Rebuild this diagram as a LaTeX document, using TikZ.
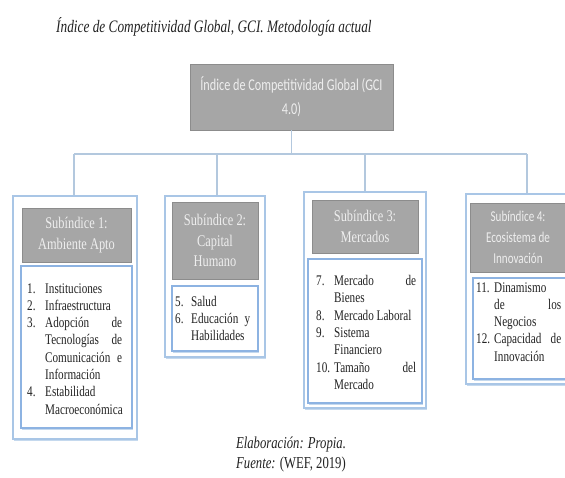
\documentclass[tikz,border=0pt]{standalone}
\usepackage{fontspec}
\usetikzlibrary{shadows}
\newfontfamily\tnr{Liberation Serif}[FakeStretch=0.76]
\newfontfamily\calfam{Carlito}[FakeStretch=0.74]
\definecolor{hdrfill}{HTML}{A6A6A6}
\definecolor{hdrdraw}{HTML}{8C8C8C}
\definecolor{hdrtext}{HTML}{EEEEEE}
\definecolor{outcol}{HTML}{A9C6E6}
\definecolor{incol}{HTML}{8DB3E2}
\definecolor{shadcol}{HTML}{C5D9EE}
\definecolor{conncol}{HTML}{B3C8DE}
\definecolor{txt}{HTML}{222222}
\newlength\lw
\newlength\tw
\newcommand\Ln[2]{\hbox{\makebox[\lw][l]{#1}\makebox[\tw][l]{#2}}}
\tikzset{
  outbox/.style={draw=outcol, line width=1.2pt, fill=white, inner sep=0pt,
    drop shadow={shadow xshift=1pt, shadow yshift=-1.5pt, fill=shadcol, opacity=1}},
  inbox/.style={draw=incol, line width=1.4pt, fill=white, inner sep=0pt,
    drop shadow={shadow xshift=0.8pt, shadow yshift=-1.5pt, fill=shadcol, opacity=1}},
  hdr/.style={draw=hdrdraw, line width=0.8pt, fill=hdrfill, inner sep=0pt, text=hdrtext, align=center,
    font=\tnr\fontsize{16.3}{20.5}\selectfont},
  hdrsans/.style={hdr, font=\calfam\fontsize{15}{21}\selectfont},
  listtext/.style={anchor=base west, inner sep=0pt, text=txt, font=\tnr\fontsize{14.7}{17.3}\selectfont},
  conn/.style={draw=conncol, line width=1.2pt}
}
\begin{document}
\begin{tikzpicture}[x=1pt,y=-1pt]
\useasboundingbox (0,0) rectangle (565,477);
\fill[white] (0,0) rectangle (565,477);
% title
\node[anchor=base west, inner sep=0pt, text=txt, font=\tnr\itshape\fontsize{17.5}{20}\selectfont] (title) at (56,32)
  {Índice de Competitividad Global, GCI. Metodología actual};
% top box
\node[hdr, font=\calfam\fontsize{16.5}{24}\selectfont, minimum width=203pt, minimum height=66pt,
  drop shadow={shadow xshift=0.6pt, shadow yshift=-1.2pt, fill=gray!75, opacity=1}] (top) at (291.5,97)
  {Índice de Competitividad Global (GCI\\4.0)};
% bus coordinates
\coordinate (d1) at (74,154);
\coordinate (d2) at (217,154);
\coordinate (d3) at (365,154);
\coordinate (d4) at (527,154);
% outer boxes
\node[outbox, minimum width=124pt, minimum height=243pt] (o1) at (75,317.5) {};
\node[outbox, minimum width=100pt, minimum height=161pt] (o2) at (215,276.5) {};
\node[outbox, minimum width=122pt, minimum height=216pt] (o3) at (365,300) {};
\node[outbox, minimum width=114pt, minimum height=190pt] (o4) at (523,289) {};
% connectors
\draw[conn] (top.south) -- (top.south |- d1);
\draw[conn] (d1) -- (d4);
\draw[conn] (d1) -- (d1 |- o1.north);
\draw[conn] (d2) -- (d2 |- o2.north);
\draw[conn] (d3) -- (d3 |- o3.north);
\draw[conn] (d4) -- (d4 |- o4.north);
% headers
\node[hdr, minimum width=109pt, minimum height=54pt] (h1) at (76.5,235) {Subíndice 1:\\Ambiente Apto};
\node[hdr, minimum width=86pt, minimum height=77pt] (h2) at (215,240.5) {Subíndice 2:\\Capital\\Humano};
\node[hdr, minimum width=106pt, minimum height=53pt] (h3) at (365,226.5) {Subíndice 3:\\Mercados};
\node[hdrsans, minimum width=96pt, minimum height=69pt] (h4) at (518,237.5) {Subíndice 4:\\Ecosistema de\\Innovación};
% inner list boxes
\node[inbox, minimum width=111pt, minimum height=162pt] (l1) at (76.5,347) {};
\node[inbox, minimum width=86pt, minimum height=65pt] (l2) at (215,318.5) {};
\node[inbox, minimum width=114pt, minimum height=144pt] (l3) at (365,331) {};
\node[inbox, minimum width=97pt, minimum height=101pt] (l4) at (521.5,328.5) {};
% list texts
\node[listtext] (t1) at (27,293) {\vtop{\setlength\lw{18pt}\setlength\tw{77pt}%
  \Ln{1.}{Instituciones}
  \Ln{2.}{Infraestructura}
  \Ln{3.}{Adopción\hfill de}
  \Ln{}{Tecnologías\hfill de}
  \Ln{}{Comunicación\hfill e}
  \Ln{}{Información}
  \Ln{4.}{Estabilidad}
  \Ln{}{Macroeconómica}}};
\node[listtext] (t2) at (175,306) {\vtop{\setlength\lw{16pt}\setlength\tw{59pt}%
  \Ln{5.}{Salud}
  \Ln{6.}{Educación\hfill y}
  \Ln{}{Habilidades}}};
\node[listtext] (t3) at (316,285.5) {\vtop{\setlength\lw{18pt}\setlength\tw{82pt}%
  \Ln{7.}{Mercado\hfill de}
  \Ln{}{Bienes}
  \Ln{8.}{Mercado Laboral}
  \Ln{9.}{Sistema}
  \Ln{}{Financiero}
  \Ln{10.}{Tamaño\hfill del}
  \Ln{}{Mercado}}};
\node[listtext] (t4) at (476,292) {\vtop{\setlength\lw{18pt}\setlength\tw{67pt}%
  \Ln{11.}{Dinamismo}
  \Ln{}{de\hfill los}
  \Ln{}{Negocios}
  \Ln{12.}{Capacidad\hfill de}
  \Ln{}{Innovación}}};
% footer
\node[inner sep=0pt, align=center, text=txt, font=\tnr\fontsize{16.7}{20}\selectfont] (foot) at (291,454)
  {\textit{Elaboración: Propia.}\\\textit{Fuente:} (WEF, 2019)};
\end{tikzpicture}
\end{document}
